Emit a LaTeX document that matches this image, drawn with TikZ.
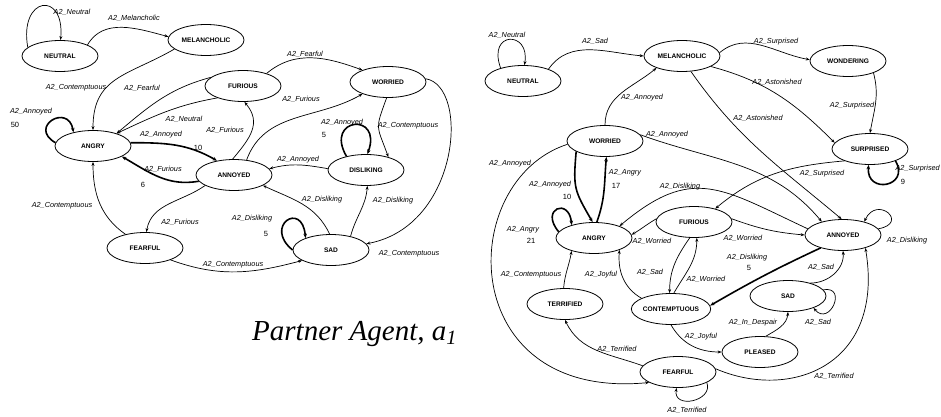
\documentclass[tikz,border=0pt]{standalone}
\usepackage{fontspec}
\setmainfont{Liberation Serif}
\setsansfont{Liberation Sans}
\usetikzlibrary{shapes.geometric,arrows.meta}
\begin{document}
\begin{tikzpicture}[x=1pt,y=1pt,
  st/.style={draw,ellipse,minimum width=76pt,minimum height=31pt,inner sep=0pt,line width=0.8pt,font=\sffamily\bfseries\fontsize{6.6}{7}\selectfont},
  ed/.style={line width=0.7pt,-{Stealth[length=4pt,width=3pt]}},
  th/.style={line width=1.6pt,-{Stealth[length=4.5pt,width=3.6pt]}},
  lb/.style={font=\sffamily\itshape\fontsize{7.3}{8}\selectfont,inner sep=0pt},
  nm/.style={font=\sffamily\fontsize{7.5}{8}\selectfont,inner sep=0pt}]
\useasboundingbox (0,0) rectangle (941,416);
% ---------------- left graph ----------------
\node[st] (lneu) at (60,360) {NEUTRAL};
\node[st] (lmel) at (206,376) {MELANCHOLIC};
\node[st] (lfur) at (243,330) {FURIOUS};
\node[st] (lwor) at (388,334) {WORRIED};
\node[st] (lang) at (93,270) {ANGRY};
\node[st] (lann) at (234,241) {ANNOYED};
\node[st] (ldis) at (366,246) {DISLIKING};
\node[st] (lfea) at (145,168) {FEARFUL};
\node[st] (lsad) at (331,166) {SAD};

\draw[ed] (lneu.165) .. controls +(100:52) and +(85:50) .. (lneu.88);
\draw[ed] (lneu.22) to[out=60,in=165] (lmel.175);
\draw[ed] (lmel.196) to[out=210,in=90,looseness=1.2] (lang.90);
\draw[ed] (lfur.165) to[out=195,in=40] (lang.28);
\draw[ed] (lfur.205) to[out=190,in=25] (lang.28);
\draw[th] (lang.5) to[out=0,in=150] (lann.140);
\draw[th] (lann.190) to[out=190,in=-30] (lang.-20);
\draw[th] (lang.175) .. controls +(150:32) and +(100:30) .. (lang.145);
\draw[ed] (lfur.28) to[out=40,in=160] (lwor.155);
\draw[ed] (lann.50) to[out=70,in=210] (lwor.205);
\draw[ed] (lann.95) to[out=50,in=-50,looseness=1.2] (lfur.-85);
\draw[ed] (lwor.-95) to[out=250,in=110,looseness=1.5] (ldis.30);
\draw[th] (ldis.145) .. controls +(120:45) and +(70:45) .. (ldis.85);
\draw[ed] (ldis.178) to[out=170,in=15] (lann.10);
\draw[ed] (lsad.95) to[out=115,in=-25] (lann.-20);
\draw[ed] (lsad.35) to[out=75,in=-95] (ldis.-85);
\draw[th] (lsad.180) .. controls +(141:38) and +(95:38) .. (lsad.155);
\draw[ed] (lwor.5) .. controls (470,330) and (460,190) .. (lsad.10);
\draw[ed] (lann.-160) to[out=215,in=80] (lfea.85);
\draw[ed] (lfea.145) to[out=145,in=-90] (lang.-90);
\draw[ed] (lfea.-25) to[out=-20,in=195] (lsad.200);

\node[lb] (l1) at (72,404) {A2\_Neutral};
\node[lb] (l2) at (134,398) {A2\_Melancholic};
\node[lb] (l3) at (76,328) {A2\_Contemptuous};
\node[lb] (l4) at (142,328) {A2\_Fearful};
\node[lb] (l5) at (184,297) {A2\_Neutral};
\node[lb] (l6) at (161,281) {A2\_Annoyed};
\node[nm] (l6n) at (198,268) {10};
\node[lb] (l7) at (163,247) {A2\_Furious};
\node[nm] (l7n) at (143,231) {6};
\node[lb] (l8) at (31,304) {A2\_Annoyed};
\node[nm] (l8n) at (15,291) {50};
\node[lb] (l9) at (305,362) {A2\_Fearful};
\node[lb] (l10) at (301,317) {A2\_Furious};
\node[lb] (l11) at (225,286) {A2\_Furious};
\node[lb] (l12) at (408,290) {A2\_Contemptuous};
\node[lb] (l13) at (342,293) {A2\_Annoyed};
\node[nm] (l13n) at (324,281) {5};
\node[lb] (l14) at (298,256) {A2\_Annoyed};
\node[lb] (l15) at (322,216) {A2\_Disliking};
\node[lb] (l16) at (393,215) {A2\_Disliking};
\node[lb] (l17) at (252,197) {A2\_Disliking};
\node[nm] (l17n) at (266,182) {5};
\node[lb] (l18) at (409,162) {A2\_Contemptuous};
\node[lb] (l19) at (180,194) {A2\_Furious};
\node[lb] (l20) at (62,210) {A2\_Contemptuous};
\node[lb] (l21) at (233,151) {A2\_Contemptuous};

\node[font=\fontsize{29}{32}\selectfont\itshape,inner sep=0pt,anchor=base west] (cap) at (252,76) {Partner Agent, a\textsubscript{1}};

% ---------------- right graph ----------------
\node[st] (rneu) at (523,335) {NEUTRAL};
\node[st] (rmel) at (682,360) {MELANCHOLIC};
\node[st] (rwon) at (848,355) {WONDERING};
\node[st] (rsur) at (870,267) {SURPRISED};
\node[st] (rwor) at (605,275) {WORRIED};
\node[st] (rang) at (594,178) {ANGRY};
\node[st] (rfur) at (694,194) {FURIOUS};
\node[st] (rann) at (843,181) {ANNOYED};
\node[st] (rcon) at (671,107) {CONTEMPTUOUS};
\node[st] (rter) at (565,112) {TERRIFIED};
\node[st] (rsad) at (788,120) {SAD};
\node[st] (rple) at (760,64) {PLEASED};
\node[st] (rfea) at (678,44) {FEARFUL};

\draw[ed] (rneu.150) .. controls +(110:40) and +(80:35) .. (rneu.85);
\draw[ed] (rneu.25) to[out=55,in=175] (rmel.180);
\draw[ed] (rwor.90) to[out=90,in=220] (rmel.205);
\draw[ed] (rmel.5) to[out=40,in=170] (rwon.178);
\draw[ed] (rmel.-20) to[out=-15,in=135] (rsur.170);
\draw[ed] (rmel.-60) to[out=-55,in=140] (rann.95);
\draw[ed] (rwon.-25) to[out=-75,in=80] (rsur.90);
\draw[th] (rsur.-25) .. controls +(-60:30) and +(-95:30) .. (rsur.-95);
\draw[ed] (rsur.-155) to[out=185,in=40] (rfur.32);
\draw[th] (rwor.-160) to[out=-95,in=120,looseness=1.3] (rang.95);
\draw[th] (rang.80) to[out=70,in=-95] (rwor.-85);
\draw[th] (rang.170) .. controls +(130:30) and +(95:28) .. (rang.150);
\draw[ed] (rwor.185) .. controls (455,235) and (455,15) .. (rfea.200);
\draw[ed] (rter.95) to[out=85,in=-100] (rang.-150);
\draw[ed] (rcon.160) to[out=150,in=-95] (rang.-25);
\draw[ed] (rann.170) to[out=155,in=40,looseness=1.3] (rang.25);
\draw[ed] (rwor.10) to[out=-20,in=130] (rann.148);
\draw[ed] (rfur.5) to[out=-20,in=175] (rann.180);
\draw[ed] (rfur.175) to[out=210,in=30] (rang.5);
\draw[ed] (rfur.-105) to[out=-125,in=90] (rcon.95);
\draw[ed] (rcon.80) to[out=60,in=-90] (rfur.-80);
\draw[th] (rann.-150) to[out=205,in=30] (rcon.5);
\draw[ed] (rsad.30) to[out=0,in=-85] (rann.-90);
\draw[ed] (rsad.10) .. controls +(10:25) and +(-50:25) .. (rsad.-25);
\draw[ed] (rple.70) to[out=30,in=-95] (rsad.-90);
\draw[ed] (rcon.-90) to[out=-60,in=180] (rple.180);
\draw[ed] (rfea.170) to[out=160,in=-65] (rter.-90);
\draw[ed] (rfea.-20) .. controls +(-70:20) and +(-100:22) .. (rfea.-95);
\draw[ed] (rfea.5) .. controls (790,15) and (885,50) .. (rann.-30);
\draw[ed] (rann.10) .. controls +(10:32) and +(65:30) .. (rann.32);

\node[lb] (r1) at (507,381) {A2\_Neutral};
\node[lb] (r2) at (595,375) {A2\_Sad};
\node[lb] (r3) at (642,318) {A2\_Annoyed};
\node[lb] (r4) at (776,374) {A2\_Surprised};
\node[lb] (r5) at (777,334) {A2\_Astonished};
\node[lb] (r6) at (758,298) {A2\_Astonished};
\node[lb] (r7) at (852,310) {A2\_Surprised};
\node[lb,anchor=east] (r8) at (940,247) {A2\_Surprised};
\node[nm] (r8n) at (903,234) {9};
\node[lb] (r9) at (822,242) {A2\_Surprised};
\node[lb] (r10) at (550,231) {A2\_Annoyed};
\node[nm] (r10n) at (567,219) {10};
\node[lb] (r11) at (625,243) {A2\_Angry};
\node[nm] (r11n) at (616,230) {17};
\node[lb] (r12) at (523,186) {A2\_Angry};
\node[nm] (r12n) at (531,175) {21};
\node[lb] (r13) at (510,252) {A2\_Annoyed};
\node[lb] (r14) at (667,281) {A2\_Annoyed};
\node[lb] (r15) at (680,229) {A2\_Disliking};
\node[lb] (r16) at (652,175) {A2\_Worried};
\node[lb] (r17) at (743,178) {A2\_Worried};
\node[lb] (r18) at (650,144) {A2\_Sad};
\node[lb] (r19) at (706,137) {A2\_Worried};
\node[lb] (r20) at (747,158) {A2\_Disliking};
\node[nm] (r20n) at (749,148) {5};
\node[lb] (r21) at (821,149) {A2\_Sad};
\node[lb] (r22) at (818,94) {A2\_Sad};
\node[lb] (r23) at (753,93) {A2\_In\_Despair};
\node[lb] (r24) at (701,79) {A2\_Joyful};
\node[lb] (r25) at (617,67) {A2\_Terrified};
\node[lb] (r26) at (687,6) {A2\_Terrified};
\node[lb] (r27) at (834,40) {A2\_Terrified};
\node[lb] (r28) at (907,175) {A2\_Disliking};
\node[lb] (r29) at (531,141) {A2\_Contemptuous};
\node[lb] (r30) at (601,141) {A2\_Joyful};
\end{tikzpicture}
\end{document}
